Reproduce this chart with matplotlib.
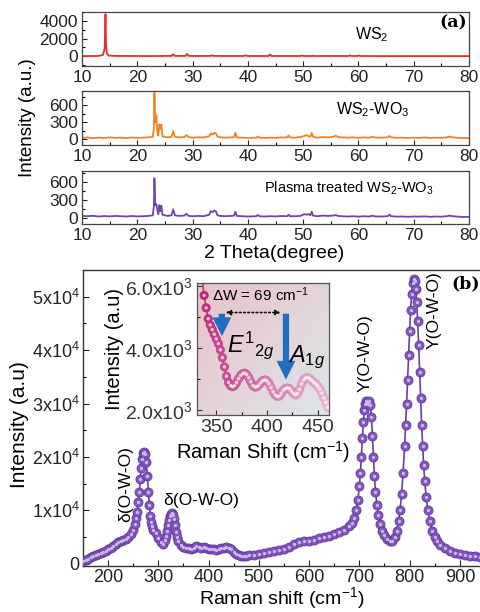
import numpy as np
import matplotlib
matplotlib.use("Agg")
import matplotlib.pyplot as plt
from matplotlib.ticker import MultipleLocator, FixedLocator, FixedFormatter

plt.rcParams['font.family'] = ['Liberation Sans', 'DejaVu Sans']
plt.rcParams['mathtext.fontset'] = 'custom'
plt.rcParams['mathtext.rm'] = 'Liberation Sans'
plt.rcParams['mathtext.it'] = 'Liberation Sans:italic'
plt.rcParams['mathtext.bf'] = 'Liberation Sans:bold'

# ---------------- (a) XRD data ----------------
ws2_x = [10, 11, 12, 13, 13.8, 14.1, 14.25, 14.35, 14.5, 14.8, 16, 18, 20, 22, 24, 26.2, 26.5, 26.8,
         28.7, 29.0, 29.3, 31, 33.2, 33.5, 33.8, 36, 39.2, 39.6, 40.0, 42, 43.8, 44.0, 44.3, 47,
         49.5, 49.8, 50.1, 51.5, 51.7, 51.9, 55, 58.2, 58.5, 58.8, 59.8, 60.1, 60.4, 65, 70, 75, 80]
ws2_y = [20, 30, 25, 40, 150, 900, 4750, 1200, 300, 80, 40, 30, 30, 25, 30, 40, 220, 40,
         40, 260, 40, 30, 40, 110, 40, 30, 30, 100, 30, 30, 30, 220, 30, 30,
         30, 90, 30, 30, 70, 30, 30, 30, 110, 30, 30, 90, 30, 20, 20, 20, 20]

wo_x = [10, 11, 12, 13, 14, 15, 16, 17, 18, 19, 20, 21, 22, 22.8, 23.0, 23.1, 23.25, 23.45, 23.6, 23.8,
        24.0, 24.15, 24.35, 24.55, 25, 25.5, 26.2, 26.5, 26.8, 27.5, 28.5, 28.9, 29.3, 30, 31, 32,
        33.0, 33.3, 33.6, 33.9, 34.2, 34.5, 35, 36, 37, 37.5, 37.75, 38.0, 39, 40, 41.5, 41.8, 42.1,
        43, 44, 45, 46, 47.1, 47.35, 47.6, 48.5, 49.5, 50.2, 50.6, 51.0, 51.3, 51.55, 51.8, 52.5,
        53.5, 54.5, 55.5, 55.9, 56.3, 57, 58, 59, 60, 61, 62, 62.5, 63, 64, 65.3, 65.6, 65.9, 67, 68,
        69, 70, 71, 72, 73, 74, 75, 76, 76.5, 77, 78, 79, 80]
wo_y = [20, 28, 18, 25, 20, 30, 22, 26, 18, 28, 22, 25, 30, 40, 200, 820, 300, 420, 150, 60,
        260, 180, 260, 50, 40, 30, 40, 140, 40, 30, 35, 70, 35, 25, 30, 28,
        50, 100, 80, 110, 100, 45, 30, 25, 30, 35, 110, 30, 25, 20, 25, 45, 25,
        20, 25, 22, 28, 30, 65, 30, 25, 35, 55, 70, 50, 40, 110, 40, 25,
        35, 30, 40, 60, 35, 30, 25, 30, 22, 30, 25, 40, 28, 25, 30, 55, 30, 22, 25,
        20, 25, 22, 28, 20, 25, 22, 30, 45, 30, 22, 18, 20]

pl_x = wo_x
pl_y = [40, 35, 42, 30, 38, 32, 40, 35, 30, 38, 32, 35, 40, 50, 200, 670, 220, 240, 150, 70,
        220, 120, 210, 60, 50, 40, 50, 150, 50, 40, 45, 75, 40, 35, 40, 35,
        60, 120, 100, 130, 120, 50, 40, 35, 40, 45, 110, 40, 35, 30, 35, 55, 35,
        30, 35, 32, 38, 35, 60, 35, 35, 40, 70, 60, 70, 50, 110, 45, 35,
        45, 40, 45, 55, 40, 35, 30, 35, 28, 35, 30, 45, 32, 30, 35, 60, 35, 28, 30,
        25, 30, 28, 32, 25, 30, 28, 35, 45, 35, 28, 22, 25]

# ---------------- (b) Raman data ----------------
raman_x = [150, 155, 160, 165, 170, 175, 180, 185, 190, 195, 200, 205, 210, 215, 220, 225, 230, 235,
           240, 245, 250, 254, 256, 258, 260, 262, 264, 266, 268, 270, 272, 274, 276, 278, 280, 282,
           284, 286, 288, 290, 295, 300, 305, 310, 314, 316, 318, 320, 322, 324, 326, 328, 330, 332,
           334, 336, 338, 340, 345, 350, 355, 360, 365, 370, 375, 380, 385, 390, 395, 400, 405, 410,
           415, 420, 425, 430, 435, 440, 445, 450, 455, 460, 465, 470, 475, 480, 490, 500, 510, 520,
           530, 540, 550, 560, 570, 580, 590, 600, 610, 620, 630, 640, 650, 660, 670, 680, 685, 690,
           694, 697, 700, 702, 704, 706, 708, 710, 712, 714, 716, 718, 720, 722, 724, 726, 728, 730,
           732, 735, 738, 742, 746, 750, 755, 760, 765, 770, 774, 778, 781, 784, 787, 790, 792, 794,
           796, 798, 800, 802, 804, 806, 808, 810, 812, 814, 816, 818, 820, 822, 824, 826, 828, 830,
           833, 836, 840, 845, 850, 855, 860, 870, 880, 890, 900, 910, 920, 930, 940, 950]
raman_y_1e4 = [0.05, 0.08, 0.10, 0.12, 0.14, 0.16, 0.18, 0.20, 0.22, 0.24, 0.27, 0.30, 0.34, 0.38, 0.41, 0.42, 0.44, 0.46,
               0.50, 0.56, 0.64, 0.75, 0.85, 0.98, 1.15, 1.35, 1.58, 1.80, 1.97, 2.07, 2.10, 2.05, 1.90, 1.65, 1.35, 1.10,
               0.90, 0.78, 0.70, 0.64, 0.57, 0.48, 0.40, 0.38, 0.44, 0.52, 0.62, 0.72, 0.82, 0.90, 0.94, 0.95, 0.92, 0.84,
               0.72, 0.60, 0.50, 0.43, 0.36, 0.32, 0.30, 0.29, 0.28, 0.30, 0.33, 0.32, 0.30, 0.31, 0.29, 0.28, 0.27, 0.27,
               0.26, 0.27, 0.29, 0.30, 0.31, 0.30, 0.27, 0.22, 0.18, 0.16, 0.15, 0.15, 0.15, 0.16, 0.17, 0.18, 0.20, 0.22,
               0.24, 0.26, 0.28, 0.32, 0.38, 0.41, 0.42, 0.43, 0.45, 0.48, 0.50, 0.53, 0.56, 0.60, 0.64, 0.70, 0.76, 0.86,
               1.00, 1.20, 1.45, 1.70, 2.00, 2.35, 2.65, 2.88, 3.00, 3.05, 3.02, 3.00, 3.05, 2.98, 2.75, 2.40, 2.00, 1.65,
               1.35, 1.10, 0.92, 0.75, 0.62, 0.54, 0.46, 0.42, 0.43, 0.50, 0.62, 0.80, 1.00, 1.30, 1.70, 2.20, 2.60, 3.00,
               3.45, 3.90, 4.35, 4.75, 5.05, 5.25, 5.33, 5.30, 5.15, 4.90, 4.55, 4.10, 3.60, 3.10, 2.60, 2.20, 1.85, 1.55,
               1.25, 1.00, 0.80, 0.62, 0.50, 0.42, 0.36, 0.29, 0.24, 0.20, 0.18, 0.16, 0.15, 0.14, 0.13, 0.12]

inset_x = [336, 338, 340, 342, 344, 346, 348, 350, 352, 354, 356, 358, 360, 362, 364, 366, 368, 370, 372,
           374, 376, 378, 380, 382, 384, 386, 388, 390, 392, 394, 396, 398, 400, 402, 404, 406, 408, 410,
           412, 414, 416, 418, 420, 422, 424, 426, 428, 430, 432, 434, 436, 438, 440, 442, 444, 446, 448,
           450, 452, 454, 456, 458, 460]
inset_y_1e3 = [6.3, 5.7, 5.3, 4.95, 4.75, 4.6, 4.45, 4.3, 4.15, 3.95, 3.7, 3.4, 3.1, 2.9, 2.8, 2.76, 2.8, 2.9, 3.02,
               3.12, 3.18, 3.2, 3.15, 3.05, 2.92, 2.8, 2.75, 2.76, 2.82, 2.9, 2.96, 2.98, 2.95, 2.86, 2.73, 2.6, 2.5, 2.45,
               2.46, 2.55, 2.65, 2.7, 2.72, 2.7, 2.62, 2.55, 2.5, 2.55, 2.68, 2.85, 2.98, 3.04, 3.05, 3.02, 2.96, 2.9, 2.85,
               2.78, 2.68, 2.55, 2.4, 2.25, 2.1]

xrd_ticks = [10, 20, 30, 40, 50, 60, 70, 80]
raman_yticks = [0, 1e4, 2e4, 3e4, 4e4, 5e4]
raman_yticklabels = ['0', r'1x10$^4$', r'2x10$^4$', r'3x10$^4$', r'4x10$^4$', r'5x10$^4$']
inset_yticks = [2000, 4000, 6000]
inset_yticklabels = [r'2.0x10$^3$', r'4.0x10$^3$', r'6.0x10$^3$']

W, H = 480, 612
fig = plt.figure(figsize=(W / 100, H / 100), dpi=100)

def fx(px):
    return px / W

def fy(py):
    return 1 - py / H

def xrd_axes(top, bot, x, y, color, ylim, yt, ymin):
    ax = fig.add_axes([fx(82), fy(bot), fx(469) - fx(82), (bot - top) / H])
    ax.plot(x, y, color=color, lw=1.3)
    ax.set_xlim(10, 80)
    ax.set_ylim(*ylim)
    ax.set_xticks(xrd_ticks)
    ax.xaxis.set_minor_locator(MultipleLocator(5))
    ax.set_yticks(yt)
    ax.yaxis.set_minor_locator(MultipleLocator(ymin))
    ax.tick_params(direction='in', labelsize=12.5, length=3.5, width=0.8, pad=3, colors='#222222')
    ax.tick_params(which='minor', direction='in', length=2, width=0.8)
    for s in ax.spines.values():
        s.set_color('#444444')
        s.set_linewidth(0.9)
    return ax

ax1 = xrd_axes(12, 66, ws2_x, ws2_y, '#ee2a2a', (-1100, 5000), [0, 2000, 4000], 1000)
ax2 = xrd_axes(91, 145, wo_x, wo_y, '#f7801e', (-105, 850), [0, 300, 600], 150)
ax3 = xrd_axes(171, 224, pl_x, pl_y, '#6e45a8', (-95, 790), [0, 300, 600], 150)

ax1.text(0.75, 0.58, r'WS$_2$', transform=ax1.transAxes, fontsize=11.5, ha='center', va='center')
ax2.text(0.75, 0.66, r'WS$_2$-WO$_3$', transform=ax2.transAxes, fontsize=11.5, ha='center', va='center')
ax3.text(0.69, 0.68, r'Plasma treated WS$_2$-WO$_3$', transform=ax3.transAxes, fontsize=10.5,
         ha='center', va='center')
fig.text(fx(453), fy(23), '(a)', family='DejaVu Serif', weight='bold', fontsize=12.5, ha='center', va='center')
fig.text(fx(27), fy(118), 'Intensity (a.u.)', rotation=90, fontsize=13.5, ha='center', va='center')
fig.text(fx(274), fy(253), '2 Theta(degree)', fontsize=14, ha='center', va='center')

# ---------------- (b) main Raman ----------------
axb = fig.add_axes([fx(83), fy(566), fx(490) - fx(83), (566 - 270) / H])
rx = np.array(raman_x)
ry = np.array(raman_y_1e4) * 1e4
axb.plot(rx, ry, color='#6a3ea6', lw=1.2, zorder=2)
axb.plot(rx, ry, 'o', ms=6.5, mfc='#8256bd', mec='#623a9c', mew=0.6, zorder=3)
axb.plot(rx, ry, 'o', ms=2.4, mfc='#cdb8ee', mec='none', zorder=4)
axb.set_xlim(150, 960)
axb.set_ylim(-400, 55000)
axb.xaxis.set_major_locator(FixedLocator([200, 300, 400, 500, 600, 700, 800, 900]))
axb.xaxis.set_minor_locator(MultipleLocator(50))
axb.yaxis.set_major_locator(FixedLocator(raman_yticks))
axb.yaxis.set_major_formatter(FixedFormatter(raman_yticklabels))
axb.yaxis.set_minor_locator(MultipleLocator(5000))
axb.tick_params(direction='in', labelsize=13, length=4, width=0.8, pad=2.5, colors='#222222')
axb.tick_params(which='minor', direction='in', length=2.5, width=0.8)
for s in axb.spines.values():
    s.set_color('#333333')
    s.set_linewidth(1.0)

axb.text(236, 15000, 'δ(O-W-O)', rotation=90, fontsize=12.5, ha='center', va='center')
axb.text(386, 11900, 'δ(O-W-O)', fontsize=12.5, ha='center', va='center')
axb.text(711, 39500, 'Y(O-W-O)', rotation=90, fontsize=12.5, ha='center', va='center')
axb.text(848, 47500, 'Y(O-W-O)', rotation=90, fontsize=12.5, ha='center', va='center')
fig.text(fx(466), fy(284), '(b)', family='DejaVu Serif', weight='bold', fontsize=12.5, ha='center', va='center')
fig.text(fx(20), fy(425), 'Intensity (a.u)', rotation=90, fontsize=15, ha='center', va='center')
fig.text(fx(282), fy(611), r'Raman shift (cm$^{-1}$)', fontsize=14, ha='center', va='bottom')

# ---------------- inset ----------------
axi = fig.add_axes([fx(197), fy(415), fx(329) - fx(197), (415 - 283) / H])
gx, gy = np.meshgrid(np.linspace(0, 1, 200), np.linspace(0, 1, 200))
t = np.clip(0.65 * gx + 0.55 * gy - 0.1, 0, 1)
c0 = np.array([0.91, 0.77, 0.80])
c1 = np.array([0.87, 0.89, 0.90])
img = c0[None, None, :] * (1 - t[..., None]) + c1[None, None, :] * t[..., None]
axi.imshow(img, extent=[0, 1, 0, 1], transform=axi.transAxes, aspect='auto', zorder=0, origin='upper')

ix = np.array(inset_x)
iy = np.array(inset_y_1e3) * 1e3
axi.plot(ix, iy, color='#c8347f', lw=1.2, zorder=2)
frac = (ix - ix.min()) / (ix.max() - ix.min())
cA = np.array([0.75, 0.13, 0.47])
cB = np.array([0.96, 0.72, 0.86])
cols = [tuple(cA * (1 - f ** 0.7) + cB * f ** 0.7) for f in frac]
axi.scatter(ix, iy, s=36, c=cols, edgecolors=[tuple(np.array(c) * 0.88) for c in cols], linewidths=0.5, zorder=3)
axi.scatter(ix, iy, s=6, c='white', alpha=0.7, edgecolors='none', zorder=4)
axi.set_xlim(331, 461)
axi.set_ylim(1850, 6100)
axi.xaxis.set_major_locator(FixedLocator([350, 400, 450]))
axi.xaxis.set_minor_locator(MultipleLocator(25))
axi.yaxis.set_major_locator(FixedLocator(inset_yticks))
axi.yaxis.set_major_formatter(FixedFormatter(inset_yticklabels))
axi.yaxis.set_minor_locator(MultipleLocator(1000))
axi.tick_params(direction='in', labelsize=14, length=3.5, width=0.8, pad=3, colors='#333333')
axi.tick_params(which='minor', direction='in', length=2, width=0.8)
for s in axi.spines.values():
    s.set_color('#555555')
    s.set_linewidth(0.9)
axi.set_xlabel(r'Raman Shift (cm$^{-1}$)', fontsize=14.5, labelpad=2)
axi.set_ylabel('Intensity (a.u)', fontsize=14.5, labelpad=1)

blue = '#1f6ec0'
arr = dict(arrowstyle='simple,head_length=0.9,head_width=0.9,tail_width=0.3', color=blue, lw=0)
axi.annotate('', xy=(355.5, 4300), xytext=(355.5, 5200), arrowprops=dict(arr, mutation_scale=15), zorder=5)
axi.annotate('', xy=(418.6, 2900), xytext=(418.6, 5200), arrowprops=dict(arr, mutation_scale=15), zorder=5)
axi.annotate('', xy=(356.5, 5150), xytext=(416, 5150),
             arrowprops=dict(arrowstyle='<|-|>', ls=(0, (1, 1.5)), lw=1.2, color='#111111',
                             mutation_scale=7), zorder=5)
axi.text(345.5, 5730, r'ΔW = 69 cm$^{-1}$', fontsize=11, ha='left', va='center', zorder=6)
axi.text(361, 3880, r'$\mathit{E^1{}_{2g}}$', fontsize=17, ha='left', va='baseline', zorder=6)
axi.text(421, 3560, r'$\mathit{A_{1g}}$', fontsize=17, ha='left', va='baseline', zorder=6)

fig.savefig('out.png', dpi=100)
